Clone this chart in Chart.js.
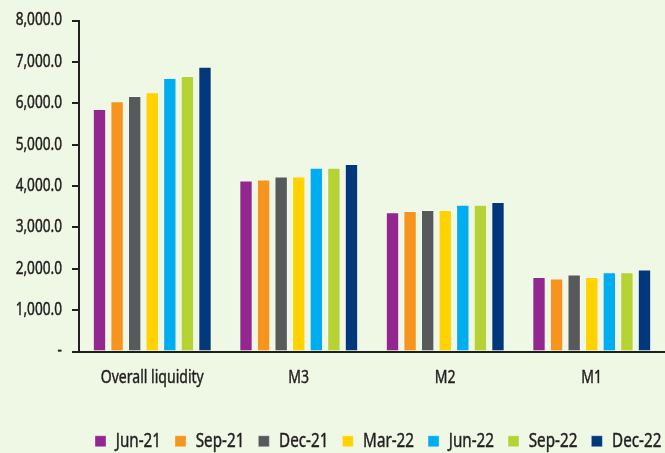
<!DOCTYPE html>
<html>
<head>
<meta charset="utf-8">
<script src="https://cdn.jsdelivr.net/npm/chart.js@4"></script>
<style>
  html, body { margin: 0; padding: 0; background: #eff7e5; }
  #wrap { width: 665px; height: 453px; position: relative; }
</style>
</head>
<body>
<div id="wrap"><canvas id="c" width="665" height="453"></canvas></div>
<script>
// Liquidity aggregates by quarter
const categories = ['Overall liquidity', 'M3', 'M2', 'M1'];
const periods = ['Jun-21', 'Sep-21', 'Dec-21', 'Mar-22', 'Jun-22', 'Sep-22', 'Dec-22'];

const jun21 = [5860, 4135, 3364, 1798];
const sep21 = [6050, 4159, 3398, 1766];
const dec21 = [6178, 4231, 3422, 1863];
const mar22 = [6267, 4231, 3422, 1798];
const jun22 = [6611, 4441, 3549, 1918];
const sep22 = [6659, 4441, 3549, 1918];
const dec22 = [6882, 4530, 3614, 1983];

const yTicks = [0, 1000, 2000, 3000, 4000, 5000, 6000, 7000, 8000];

const seriesValues = [jun21, sep21, dec21, mar22, jun22, sep22, dec22];
const colors = ['#92278f', '#f7941d', '#58595b', '#ffd200', '#00aeef', '#b5d334', '#00387b'];

const FONT = '"Noto Sans", "Open Sans", "Liberation Sans", sans-serif';
const INK = '#231f20';

// Condensed lettering: squeeze all canvas text horizontally around its anchor
const canvas = document.getElementById('c');
const g = canvas.getContext('2d');
const SX = 0.78;
const nativeFill = CanvasRenderingContext2D.prototype.fillText;
const nativeStroke = CanvasRenderingContext2D.prototype.strokeText;
const nativeMeasure = CanvasRenderingContext2D.prototype.measureText;
g.fillText = function (text, x, y) {
  this.save();
  this.translate(x, y);
  this.scale(SX, 1);
  nativeFill.call(this, text, 0, 0);
  // slightly heavier strokes
  this.strokeStyle = this.fillStyle;
  this.lineWidth = 0.45;
  this.lineJoin = 'round';
  nativeStroke.call(this, text, 0, 0);
  this.restore();
};
g.measureText = function (text) {
  const m = nativeMeasure.call(this, text);
  return {
    width: m.width * SX,
    actualBoundingBoxAscent: m.actualBoundingBoxAscent,
    actualBoundingBoxDescent: m.actualBoundingBoxDescent,
    actualBoundingBoxLeft: m.actualBoundingBoxLeft * SX,
    actualBoundingBoxRight: m.actualBoundingBoxRight * SX
  };
};

const datasets = periods.map((p, i) => ({
  label: p,
  data: seriesValues[i],
  backgroundColor: colors[i],
  borderColor: 'rgba(255,255,255,0.35)',
  borderWidth: 1,
  barPercentage: 0.76,
  categoryPercentage: 0.84
}));

const LEGEND_X = 95;

new Chart(canvas, {
  type: 'bar',
  data: { labels: categories, datasets },
  options: {
    responsive: false,
    animation: false,
    devicePixelRatio: 1,
    layout: { padding: { top: 9, right: 0, left: 0, bottom: -8 } },
    plugins: {
      tooltip: { enabled: false },
      legend: {
        position: 'bottom',
        labels: {
          boxWidth: 11,
          boxHeight: 11,
          padding: 14,
          color: INK,
          font: { family: FONT, size: 19.5 }
        }
      }
    },
    scales: {
      x: {
        grid: { display: false, drawTicks: false },
        border: { display: true, color: INK, width: 2 },
        ticks: { color: INK, padding: 16, font: { family: FONT, size: 18 } },
        afterFit(scale) { scale.height = 66; }
      },
      y: {
        min: 0,
        max: 8000,
        afterBuildTicks(scale) { scale.ticks = yTicks.map(v => ({ value: v })); },
        afterFit(scale) { scale.width = 79; },
        grid: { drawOnChartArea: false, drawTicks: true, tickLength: 7, color: INK, lineWidth: 2 },
        border: { display: true, color: INK, width: 2 },
        ticks: {
          color: INK,
          padding: 10,
          font: { family: FONT, size: 17.5 },
          callback(v) {
            if (v === 0) return '-';
            return v.toLocaleString('en-US', { minimumFractionDigits: 1, maximumFractionDigits: 1 });
          }
        }
      }
    }
  },
  plugins: [{
    id: 'bg',
    beforeDraw(chart) {
      const ctx = chart.ctx;
      ctx.save();
      ctx.fillStyle = '#eff7e5';
      ctx.fillRect(0, 0, chart.width, chart.height);
      ctx.restore();
    }
  }, {
    id: 'legendShift',
    afterLayout(chart) {
      const lg = chart.legend;
      if (!lg || !lg.lineWidths) return;
      const pad = lg.options.labels.padding;
      const startX = (lg.left + pad + lg.right - lg.lineWidths[0]) / 2;
      const dx = LEGEND_X - startX;
      lg.left += dx;
      lg.right += dx;
    }
  }]
});
</script>
</body>
</html>
